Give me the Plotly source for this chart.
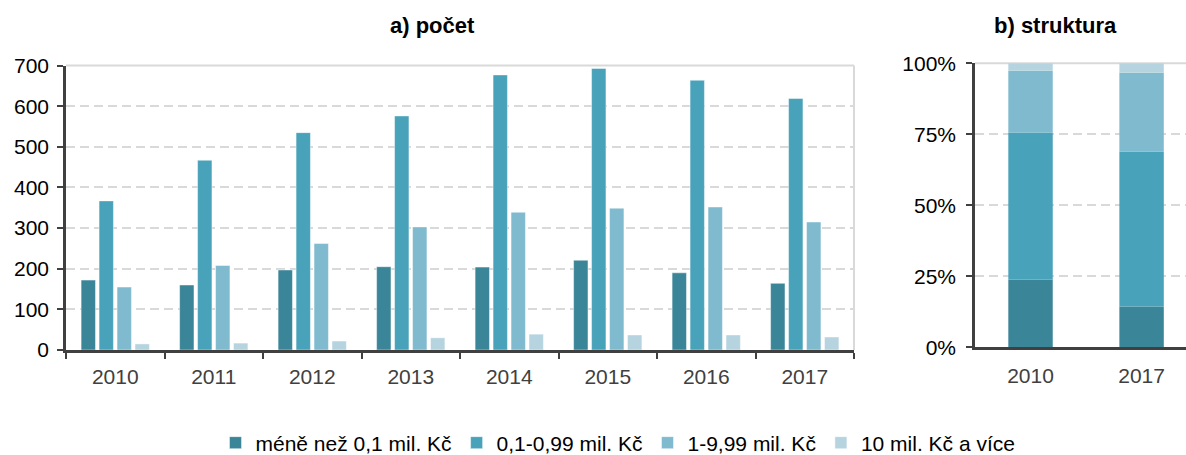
import plotly.graph_objects as go

years = ["2010", "2011", "2012", "2013", "2014", "2015", "2016", "2017"]
series_names = ["méně než 0,1 mil. Kč", "0,1-0,99 mil. Kč", "1-9,99 mil. Kč", "10 mil. Kč a více"]
s_small = [172, 160, 197, 205, 204, 221, 190, 164]
s_mid = [367, 467, 535, 576, 677, 693, 664, 619]
s_large = [155, 208, 262, 303, 339, 349, 352, 315]
s_xl = [15, 17, 22, 30, 39, 37, 37, 32]

struct_years = ["2010", "2017"]
share_small = [0.239, 0.144]
share_mid = [0.517, 0.545]
share_large = [0.218, 0.278]
share_xl = [0.026, 0.033]

colors = ["#3b8599", "#48a2ba", "#7fbacf", "#b5d4df"]
FONT = "Liberation Sans, Arial, sans-serif"
W, H = 1186, 455

fig = go.Figure()
left_vals = [s_small, s_mid, s_large, s_xl]
for name, vals, col in zip(series_names, left_vals, colors):
    fig.add_trace(go.Bar(x=years, y=vals, name=name, marker=dict(color=col, line=dict(color="rgba(255,255,255,0.45)", width=1)),
                         xaxis="x", yaxis="y", showlegend=True))

shares = [share_small, share_mid, share_large, share_xl]
base = [0.0, 0.0]
for name, vals, col in zip(series_names, shares, colors):
    fig.add_trace(go.Bar(x=struct_years, y=vals, base=list(base), name=name, offsetgroup="s", width=0.4,
                         marker=dict(color=col, line=dict(color=col, width=0)),
                         xaxis="x2", yaxis="y2", showlegend=False))
    base = [b + v for b, v in zip(base, vals)]

def px_x(p):
    return p / W

def px_y(p):
    return (H - p) / H

axis_col = "#404040"
grid_col = "#d9d9d9"

fig.update_layout(
    width=W, height=H,
    margin=dict(l=0, r=0, t=0, b=0, autoexpand=False),
    paper_bgcolor="white", plot_bgcolor="white",
    font=dict(family=FONT, size=21, color="#000000"),
    barmode="group", bargap=0.27, bargroupgap=0.2,
    xaxis=dict(domain=[px_x(66), px_x(854)], type="category", tickson="boundaries",
               ticks="outside", ticklen=6, tickwidth=2, tickcolor=axis_col, automargin=False,
               showline=True, linecolor=axis_col, linewidth=2.5,
               tickfont=dict(color="#404040", size=21), showgrid=False, ticklabelstandoff=6),
    yaxis=dict(domain=[px_y(350), px_y(65.6)], range=[0, 700], dtick=100, automargin=False,
               ticks="outside", ticklen=6, tickwidth=2, tickcolor=axis_col,
               showline=True, linecolor=axis_col, linewidth=2.5,
               showgrid=True, gridcolor=grid_col, gridwidth=2, griddash="9px,5px",
               zeroline=False, tickfont=dict(color="#000000", size=21), ticklabelstandoff=4),
    xaxis2=dict(domain=[px_x(975), 1.0], type="category", range=[-0.5, 1.4], anchor="y2", automargin=False,
                ticks="", showline=True, linecolor=axis_col, linewidth=2.5,
                tickfont=dict(color="#404040", size=21), showgrid=False, ticklabelstandoff=8),
    yaxis2=dict(domain=[px_y(347.3), px_y(63.3)], range=[0, 1], dtick=0.25, tickformat=".0%", anchor="x2",
                ticks="outside", ticklen=6, tickwidth=2, tickcolor=axis_col, automargin=False,
                showline=True, linecolor=axis_col, linewidth=2.5,
                showgrid=True, gridcolor=grid_col, gridwidth=2, griddash="9px,5px",
                zeroline=False, tickfont=dict(color="#000000", size=21), ticklabelstandoff=6),
    legend=dict(orientation="h", x=px_x(618), xanchor="center", y=px_y(443), yanchor="middle",
                font=dict(size=21, color="#000000"), traceorder="normal", itemclick=False),
    shapes=[
        dict(type="line", xref="x domain", yref="y domain", x0=0, x1=1, y0=1, y1=1, line=dict(color=grid_col, width=2), layer="below"),
        dict(type="line", xref="x domain", yref="y domain", x0=1, x1=1, y0=0, y1=1, line=dict(color=grid_col, width=2), layer="below"),
        dict(type="line", xref="x2 domain", yref="y2 domain", x0=0, x1=1, y0=1, y1=1, line=dict(color=grid_col, width=2), layer="below"),
    ],
    annotations=[
        dict(text="<b>a) počet</b>", x=px_x(432), y=px_y(25), xref="paper", yref="paper", showarrow=False,
             xanchor="center", yanchor="middle", font=dict(size=22, color="#000000")),
        dict(text="<b>b) struktura</b>", x=px_x(1055), y=px_y(25), xref="paper", yref="paper", showarrow=False,
             xanchor="center", yanchor="middle", font=dict(size=22, color="#000000")),
    ],
)

fig.write_html("out.html", config={"displayModeBar": False},
               post_script="document.body.style.margin='0';document.body.style.overflow='hidden';")
